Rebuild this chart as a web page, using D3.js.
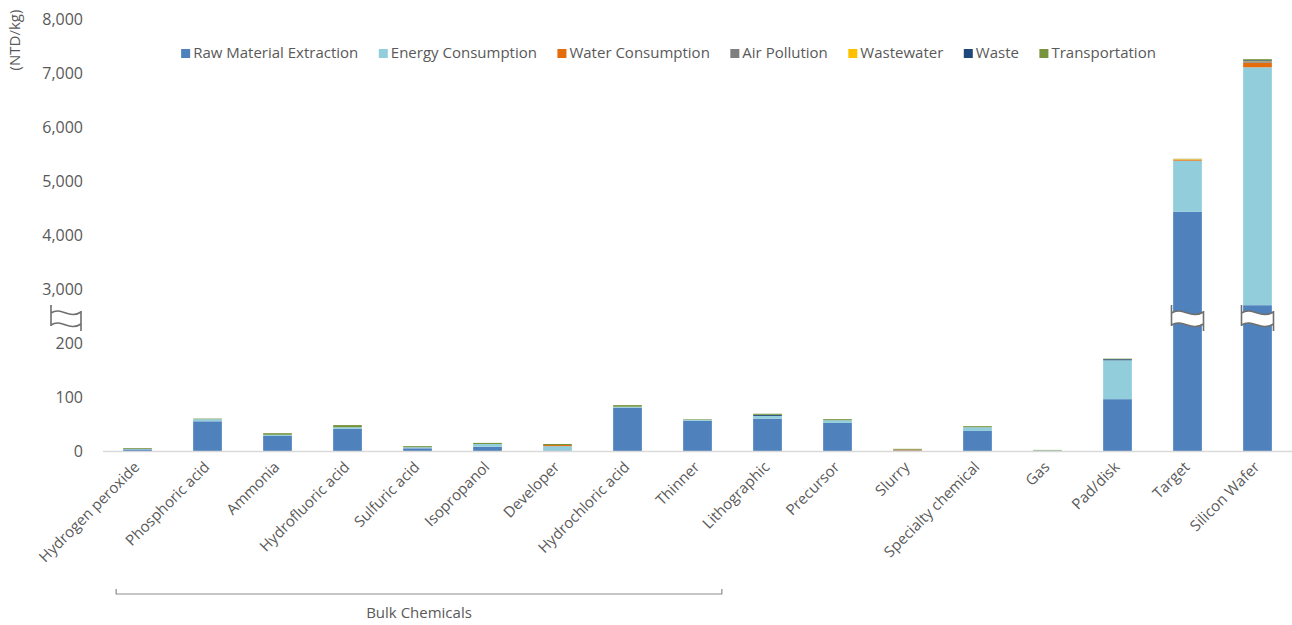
<!DOCTYPE html>
<html>
<head>
<meta charset="utf-8">
<script src="https://cdn.jsdelivr.net/npm/d3@7"></script>
<style>
  body { margin: 0; background: #fff; }
  text { font-family: "Open Sans", "Noto Sans", sans-serif; fill: #595959; }
</style>
</head>
<body>
<div id="chart"></div>
<script>
// data (NTD/kg)
const categories = ["Hydrogen peroxide", "Phosphoric acid", "Ammonia", "Hydrofluoric acid", "Sulfuric acid",
  "Isopropanol", "Developer", "Hydrochloric acid", "Thinner", "Lithographic", "Precursor", "Slurry",
  "Specialty chemical", "Gas", "Pad/disk", "Target", "Silicon Wafer"];
const series = ["Raw Material Extraction", "Energy Consumption", "Water Consumption", "Air Pollution",
  "Wastewater", "Waste", "Transportation"];
const rawMaterial = [3, 55, 28, 41, 5, 8, 1, 80, 56, 60, 52, 1, 37, 0, 96, 4430, 2700];
const energy      = [1, 4, 2, 3, 2, 5, 8, 2, 2, 5, 5, 0, 7, 1, 72, 946, 4406];
const water       = [0, 0, 0, 0, 0, 0, 2, 0, 0, 0, 0, 1.5, 0, 0, 0, 15, 85];
const airPollution= [0, 0, 0, 0, 0, 0, 0, 0, 0, 0, 0, 0, 0, 0, 0, 5, 15];
const wastewater  = [0, 0, 0, 0, 0, 0, 0, 0, 0, 0, 0, 0, 0, 0, 0, 10, 10];
const waste       = [0, 0, 0, 0, 0, 0, 0, 0, 0, 2, 0, 0, 0, 0, 2, 0, 20];
const transport   = [1.5, 1, 3, 4, 2, 2, 2, 3, 1, 2, 2, 1.5, 2, 1, 1, 5, 20];
const yTicks = [0, 100, 200, 3000, 4000, 5000, 6000, 7000, 8000];
const colors = ["#4f81bd", "#92cddc", "#e46c0a", "#7f7f7f", "#ffc000", "#1f497d", "#77933c"];

const width = 1292, height = 625;
const svg = d3.select("#chart").append("svg")
  .attr("width", width).attr("height", height);

const table = categories.map(function(c, i) {
  return {cat: c, "Raw Material Extraction": rawMaterial[i], "Energy Consumption": energy[i],
    "Water Consumption": water[i], "Air Pollution": airPollution[i], "Wastewater": wastewater[i],
    "Waste": waste[i], "Transportation": transport[i]};
});

const x = d3.scaleBand().domain(categories)
  .range([102.5, 1292.5]).paddingInner(0.59).paddingOuter(0.295);

// broken axis: 0-200 then 2500-8000 (200..2500 squeezed behind the break)
const y = d3.scaleLinear().domain([0, 200, 2500, 8000]).range([451, 343, 316, 19]);
const z = d3.scaleOrdinal().domain(series).range(colors);

const stacked = d3.stack().keys(series)(table);

svg.append("g")
  .selectAll("g").data(stacked).enter().append("g")
  .attr("fill", function(d) { return z(d.key); })
  .selectAll("rect").data(function(d) { return d; }).enter().append("rect")
  .attr("x", function(d) { return x(d.data.cat); })
  .attr("y", function(d) { return y(d[1]); })
  .attr("height", function(d) { return Math.max(0, y(d[0]) - y(d[1])); })
  .attr("width", x.bandwidth());

// x axis
const xAxis = svg.append("g")
  .attr("transform", "translate(0,451)")
  .call(d3.axisBottom(x).tickSize(0).tickPadding(0));
xAxis.select(".domain").attr("stroke", "#d9d9d9").attr("stroke-width", 1.5);
xAxis.selectAll("text")
  .attr("font-size", 15)
  .attr("text-anchor", "end")
  .attr("dy", null)
  .attr("y", 0)
  .attr("transform", "translate(3,17) rotate(-45)");

// y axis
const yAxis = svg.append("g")
  .attr("transform", "translate(90,0)")
  .call(d3.axisLeft(y).tickValues(yTicks).tickSize(0).tickPadding(7).tickFormat(d3.format(",")));
yAxis.select(".domain").remove();
yAxis.selectAll("text").attr("font-size", 16);

svg.append("text")
  .attr("transform", "translate(20,40) rotate(-90)")
  .attr("text-anchor", "middle")
  .attr("font-size", 15)
  .text("(NTD/kg)");

// break marks
function breakMark(cx, cy, w) {
  const g = svg.append("g").attr("transform", "translate(" + (cx - w / 2) + "," + (cy - 13) + ")");
  g.append("path")
    .attr("d", "M0,8 C" + w * 0.35 + ",1 " + w * 0.6 + ",15 " + w + ",7 L" + w + ",19 C" +
      w * 0.6 + ",27 " + w * 0.35 + ",13 0,20 Z")
    .attr("fill", "#fff").attr("stroke", "none");
  g.append("path")
    .attr("d", "M0,8 C" + w * 0.35 + ",1 " + w * 0.6 + ",15 " + w + ",7 M0,20 C" +
      w * 0.35 + ",13 " + w * 0.6 + ",27 " + w + ",19 M0,0 L0,21 M" + w + ",6 L" + w + ",26")
    .attr("fill", "none").attr("stroke", "#6f6f6f").attr("stroke-width", 1.6);
}
breakMark(66, 318, 30);
breakMark(x("Target") + x.bandwidth() / 2, 318, 32);
breakMark(x("Silicon Wafer") + x.bandwidth() / 2, 318, 32);

// legend
const legend = svg.append("g").attr("font-size", 15);
let lx = 0;
series.forEach(function(s) {
  const g = legend.append("g").attr("transform", "translate(" + lx + ",0)");
  g.append("rect").attr("x", 0).attr("y", 49).attr("width", 9).attr("height", 9).attr("fill", z(s));
  const t = g.append("text").attr("x", 12).attr("y", 53).attr("dy", "0.35em").text(s);
  lx += 12 + t.node().getComputedTextLength() + 20.5;
});
const legendW = lx - 20.5;
legend.attr("transform", "translate(" + (668.5 - legendW / 2) + ",0)");

// bulk chemicals bracket
const bx0 = x("Hydrogen peroxide") - 7;
const bx1 = x("Thinner") + x.bandwidth() + 10;
svg.append("path")
  .attr("d", "M" + bx0 + ",589 L" + bx0 + ",594 L" + bx1 + ",594 L" + bx1 + ",589")
  .attr("fill", "none").attr("stroke", "#8c8c8c").attr("stroke-width", 1.2);
svg.append("text")
  .attr("x", (bx0 + bx1) / 2).attr("y", 613).attr("dy", "0.35em")
  .attr("text-anchor", "middle").attr("font-size", 15)
  .text("Bulk Chemicals");
</script>
</body>
</html>
